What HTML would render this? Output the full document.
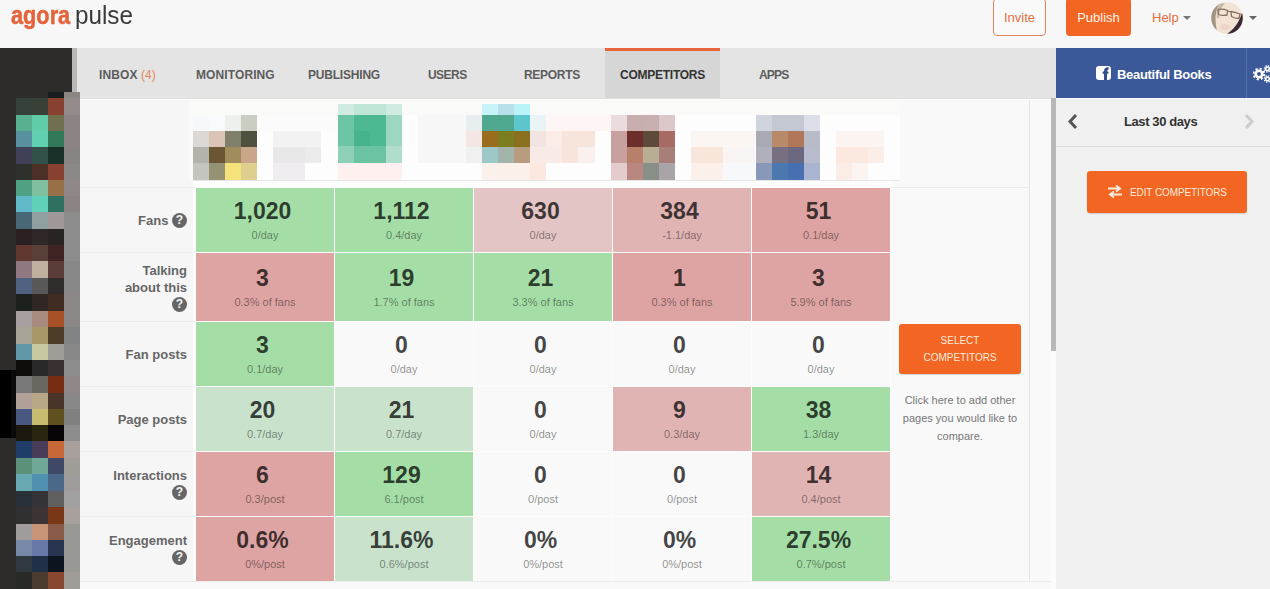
<!DOCTYPE html>
<html><head><meta charset="utf-8">
<style>
*{box-sizing:border-box}
html,body{margin:0;padding:0}
body{width:1270px;height:589px;overflow:hidden;position:relative;background:#f7f7f7;font-family:"Liberation Sans",sans-serif}
#side div,#hm div{position:absolute}
#hm{position:absolute;left:0;top:0;filter:blur(0.4px)}
.a{position:absolute;white-space:nowrap}
#nav{position:absolute;left:77px;top:48px;width:979px;height:51px;background:#e4e4e4;border-bottom:1px solid #e0e0e0}
#nav .t{position:absolute;top:0;height:50px;line-height:55px;font-size:12px;font-weight:bold;color:#5c5c5c;letter-spacing:0.1px}
#main{position:absolute;left:80px;top:99px;width:971px;height:490px;background:#f9f9f9}
.cell{position:absolute;text-align:center}
.num{position:absolute;left:0;right:5px;top:11px;font-size:23px;font-weight:bold;color:rgba(0,0,0,.74);line-height:24px}
.sub{position:absolute;left:0;right:0;top:41px;font-size:11px;color:rgba(0,0,0,.45);line-height:13px}
.lab{position:absolute;left:80px;width:115px;display:flex;align-items:center;justify-content:flex-end;padding-right:8px;text-align:right;font-size:13px;font-weight:bold;color:#666;line-height:17px}
.q{display:inline-block;width:15px;height:15px;border-radius:50%;background:#666;color:#f6f6f6;font-size:12px;line-height:15px;text-align:center;vertical-align:1px}
</style></head><body>
<!-- header -->
<div class="a" style="left:11px;top:-3px;line-height:36px;font-size:26px;color:#e4633a;font-weight:bold;-webkit-text-stroke:0.5px #e4633a;transform:scaleX(0.836);transform-origin:0 0">agora</div>
<div class="a" style="left:75px;top:-3px;line-height:36px;font-size:26px;color:#3a3a3a;transform:scaleX(0.933);transform-origin:0 0">pulse</div>
<div class="a" style="left:993px;top:-2px;width:53px;height:38px;border:1px solid #e0865f;border-radius:4px;background:#f9f9f9;color:#e0703f;font-size:13px;text-align:center;line-height:37px">Invite</div>
<div class="a" style="left:1066px;top:-2px;width:65px;height:38px;background:#f26522;border-radius:4px;color:#fff3ea;font-size:13px;text-align:center;line-height:39px">Publish</div>
<div class="a" style="left:1152px;top:0;height:36px;line-height:36px;color:#e0703f;font-size:13px">Help</div>
<div class="a" style="left:1183px;top:16px;width:0;height:0;border-left:4px solid transparent;border-right:4px solid transparent;border-top:4px solid #777"></div>
<svg class="a" style="left:1211px;top:2px;filter:blur(0.4px)" width="32" height="32" viewBox="0 0 32 32">
<defs><clipPath id="cc"><circle cx="16" cy="16" r="15.8"/></clipPath></defs>
<g clip-path="url(#cc)">
<rect width="32" height="32" fill="#f2e3d4"/>
<path d="M0 0 H9 C4 8 3 20 7 32 H0Z" fill="#a09482"/>
<path d="M9 0 C6 6 5 12 6 16 L8 16 C8 10 10 5 14 2Z" fill="#c8bca8"/>
<path d="M32 7 C30 16 26 25 16 32 H32Z" fill="#3a2830"/>
<ellipse cx="14" cy="25" rx="5" ry="3" fill="#efd4ca"/>
<g fill="none" stroke="#86705e" stroke-width="1.3"><path d="M7 7.5 Q12 6.5 16.5 8.5 L16 13 Q11 14 7.5 12.5Z"/><path d="M20 9.5 Q25 10.5 29 12 L28 16.5 Q23.5 16.5 20.5 14.5Z"/><path d="M16.5 9 L20 10"/></g>
</g></svg>
<div class="a" style="left:1249px;top:16px;width:0;height:0;border-left:4px solid transparent;border-right:4px solid transparent;border-top:4px solid #666"></div>

<!-- nav -->
<div id="nav">
<span class="t" style="left:22px">INBOX <span style="color:#e4875a;font-weight:normal">(4)</span></span>
<span class="t" style="left:119px">MONITORING</span>
<span class="t" style="left:231px;letter-spacing:-0.2px">PUBLISHING</span>
<span class="t" style="left:351px;letter-spacing:-0.55px">USERS</span>
<span class="t" style="left:447px;letter-spacing:-0.3px">REPORTS</span>
<div style="position:absolute;left:528px;top:0;width:115px;height:50px;background:#d6d6d6;border-top:3px solid #e8643a"></div>
<span class="t" style="left:543px;color:#333;letter-spacing:-0.25px">COMPETITORS</span>
<span class="t" style="left:682px;letter-spacing:-0.8px">APPS</span>
</div>

<!-- main -->
<div id="main"></div>
<div class="a" style="left:891px;top:187px;width:138px;height:1px;background:#ececec"></div>
<div class="a" style="left:1029px;top:98px;width:1px;height:484px;background:#e4e4e4"></div>
<div class="a" style="left:80px;top:581px;width:971px;height:1px;background:#ececec"></div>
<div id="lbg" class="a" style="left:80px;top:100px;width:115px;height:481px;background:#f6f6f6"></div>
<div id="hm"><div style="left:193px;top:99px;width:707px;height:81px;background:#fdfdfd"></div>
<div style="left:193px;top:99px;width:707px;height:16px;background:#fafaf9"></div>
<div style="left:193px;top:115px;width:16px;height:16px;background:#f7f8fa"></div>
<div style="left:209px;top:115px;width:16px;height:16px;background:#f9fafc"></div>
<div style="left:225px;top:115px;width:16px;height:16px;background:#eef0ee"></div>
<div style="left:241px;top:115px;width:16px;height:16px;background:#c9cdc2"></div>
<div style="left:193px;top:131px;width:16px;height:16px;background:#dcd8d5"></div>
<div style="left:209px;top:131px;width:16px;height:16px;background:#dcc3b7"></div>
<div style="left:225px;top:131px;width:16px;height:16px;background:#807f6a"></div>
<div style="left:241px;top:131px;width:16px;height:16px;background:#4f513f"></div>
<div style="left:193px;top:147px;width:16px;height:16px;background:#b3b2ab"></div>
<div style="left:209px;top:147px;width:16px;height:16px;background:#6b5633"></div>
<div style="left:225px;top:147px;width:16px;height:16px;background:#a08c5c"></div>
<div style="left:241px;top:147px;width:16px;height:16px;background:#c9a68a"></div>
<div style="left:193px;top:163px;width:16px;height:17px;background:#c3c5be"></div>
<div style="left:209px;top:163px;width:16px;height:17px;background:#959173"></div>
<div style="left:225px;top:163px;width:16px;height:17px;background:#f5e27a"></div>
<div style="left:241px;top:163px;width:16px;height:17px;background:#dfcf8e"></div>
<div style="left:257px;top:115px;width:81px;height:16px;background:#fbfbfb"></div>
<div style="left:273px;top:131px;width:48px;height:16px;background:#f2f2f2"></div>
<div style="left:273px;top:147px;width:32px;height:16px;background:#e8e8e8"></div>
<div style="left:305px;top:147px;width:16px;height:16px;background:#ebebeb"></div>
<div style="left:273px;top:163px;width:32px;height:17px;background:#efedef"></div>
<div style="left:338px;top:104px;width:16px;height:11px;background:#d0ebe2"></div>
<div style="left:354px;top:104px;width:16px;height:11px;background:#c0e6d8"></div>
<div style="left:370px;top:104px;width:16px;height:11px;background:#c0e6d8"></div>
<div style="left:386px;top:104px;width:16px;height:11px;background:#d0ebe2"></div>
<div style="left:338px;top:115px;width:16px;height:16px;background:#6cc6a5"></div>
<div style="left:354px;top:115px;width:16px;height:16px;background:#4db892"></div>
<div style="left:370px;top:115px;width:16px;height:16px;background:#4cb993"></div>
<div style="left:386px;top:115px;width:16px;height:16px;background:#9dd7c2"></div>
<div style="left:338px;top:131px;width:16px;height:15px;background:#6cc6a5"></div>
<div style="left:354px;top:131px;width:16px;height:15px;background:#48b48e"></div>
<div style="left:370px;top:131px;width:16px;height:15px;background:#4cb993"></div>
<div style="left:386px;top:131px;width:16px;height:15px;background:#9dd7c2"></div>
<div style="left:338px;top:146px;width:16px;height:17px;background:#8dd0b6"></div>
<div style="left:354px;top:146px;width:16px;height:17px;background:#6bc3a2"></div>
<div style="left:370px;top:146px;width:16px;height:17px;background:#6bc3a2"></div>
<div style="left:386px;top:146px;width:16px;height:17px;background:#b0ddcc"></div>
<div style="left:338px;top:163px;width:16px;height:17px;background:#fdf0ee"></div>
<div style="left:354px;top:163px;width:16px;height:17px;background:#fdf0ee"></div>
<div style="left:370px;top:163px;width:16px;height:17px;background:#fdf0ee"></div>
<div style="left:386px;top:163px;width:16px;height:17px;background:#fdf0ee"></div>
<div style="left:418px;top:115px;width:48px;height:48px;background:#f7f7f7"></div>
<div style="left:466px;top:115px;width:16px;height:16px;background:#e6eeef"></div>
<div style="left:466px;top:131px;width:16px;height:16px;background:#f4e6e2"></div>
<div style="left:466px;top:147px;width:16px;height:16px;background:#f0f0f0"></div>
<div style="left:482px;top:104px;width:16px;height:11px;background:#c8f3f8"></div>
<div style="left:498px;top:104px;width:16px;height:11px;background:#b8e0ea"></div>
<div style="left:514px;top:104px;width:16px;height:11px;background:#b8f4fa"></div>
<div style="left:482px;top:115px;width:16px;height:16px;background:#4fa88f"></div>
<div style="left:498px;top:115px;width:16px;height:16px;background:#4fa88f"></div>
<div style="left:514px;top:115px;width:16px;height:16px;background:#5cc6cc"></div>
<div style="left:482px;top:131px;width:16px;height:16px;background:#9a6d1e"></div>
<div style="left:498px;top:131px;width:16px;height:16px;background:#7b7d1e"></div>
<div style="left:514px;top:131px;width:16px;height:16px;background:#8a6f1e"></div>
<div style="left:482px;top:147px;width:16px;height:16px;background:#9ec8c8"></div>
<div style="left:498px;top:147px;width:16px;height:16px;background:#a3b5aa"></div>
<div style="left:514px;top:147px;width:16px;height:16px;background:#b89c80"></div>
<div style="left:482px;top:163px;width:16px;height:17px;background:#fbf0ea"></div>
<div style="left:498px;top:163px;width:16px;height:17px;background:#fbf0ea"></div>
<div style="left:514px;top:163px;width:16px;height:17px;background:#fbf0ea"></div>
<div style="left:530px;top:115px;width:16px;height:16px;background:#e8f4f6"></div>
<div style="left:546px;top:115px;width:65px;height:16px;background:#fdf6f4"></div>
<div style="left:530px;top:131px;width:16px;height:16px;background:#f2e4e0"></div>
<div style="left:546px;top:131px;width:16px;height:16px;background:#fbece8"></div>
<div style="left:562px;top:131px;width:33px;height:16px;background:#f7e4da"></div>
<div style="left:530px;top:147px;width:32px;height:16px;background:#f8eae6"></div>
<div style="left:562px;top:147px;width:16px;height:16px;background:#f7e4da"></div>
<div style="left:578px;top:147px;width:17px;height:16px;background:#faf0ee"></div>
<div style="left:530px;top:163px;width:16px;height:17px;background:#fbe9e0"></div>
<div style="left:611px;top:115px;width:16px;height:16px;background:#eadcdc"></div>
<div style="left:627px;top:115px;width:16px;height:16px;background:#c9aeae"></div>
<div style="left:643px;top:115px;width:16px;height:16px;background:#c9b0b0"></div>
<div style="left:659px;top:115px;width:16px;height:16px;background:#dcc8c8"></div>
<div style="left:611px;top:131px;width:16px;height:16px;background:#c9a0a0"></div>
<div style="left:627px;top:131px;width:16px;height:16px;background:#6b2e2a"></div>
<div style="left:643px;top:131px;width:16px;height:16px;background:#5e4a3a"></div>
<div style="left:659px;top:131px;width:16px;height:16px;background:#a86a64"></div>
<div style="left:611px;top:147px;width:16px;height:16px;background:#c9a0a0"></div>
<div style="left:627px;top:147px;width:16px;height:16px;background:#b8806a"></div>
<div style="left:643px;top:147px;width:16px;height:16px;background:#b8ae94"></div>
<div style="left:659px;top:147px;width:16px;height:16px;background:#a87e78"></div>
<div style="left:611px;top:163px;width:16px;height:17px;background:#e4cccc"></div>
<div style="left:627px;top:163px;width:16px;height:17px;background:#b88880"></div>
<div style="left:643px;top:163px;width:16px;height:17px;background:#888e88"></div>
<div style="left:659px;top:163px;width:16px;height:17px;background:#a8a4a8"></div>
<div style="left:691px;top:131px;width:64px;height:16px;background:#fcf6f2"></div>
<div style="left:691px;top:147px;width:32px;height:16px;background:#f9e6da"></div>
<div style="left:723px;top:147px;width:32px;height:16px;background:#f8f4f4"></div>
<div style="left:691px;top:163px;width:32px;height:17px;background:#fbf0ea"></div>
<div style="left:723px;top:163px;width:32px;height:17px;background:#f6f8fa"></div>
<div style="left:756px;top:115px;width:16px;height:16px;background:#d0d4dc"></div>
<div style="left:772px;top:115px;width:16px;height:16px;background:#c4c8d2"></div>
<div style="left:788px;top:115px;width:16px;height:16px;background:#c4c8d2"></div>
<div style="left:804px;top:115px;width:16px;height:16px;background:#dcdfe8"></div>
<div style="left:756px;top:131px;width:16px;height:16px;background:#a8aab4"></div>
<div style="left:772px;top:131px;width:16px;height:16px;background:#b88a6a"></div>
<div style="left:788px;top:131px;width:16px;height:16px;background:#b07858"></div>
<div style="left:804px;top:131px;width:16px;height:16px;background:#b8bcc8"></div>
<div style="left:756px;top:147px;width:16px;height:16px;background:#b0b0bc"></div>
<div style="left:772px;top:147px;width:16px;height:16px;background:#787080"></div>
<div style="left:788px;top:147px;width:16px;height:16px;background:#6c6880"></div>
<div style="left:804px;top:147px;width:16px;height:16px;background:#b8bccc"></div>
<div style="left:756px;top:163px;width:16px;height:17px;background:#8898b8"></div>
<div style="left:772px;top:163px;width:16px;height:17px;background:#4c78b0"></div>
<div style="left:788px;top:163px;width:16px;height:17px;background:#4870b0"></div>
<div style="left:804px;top:163px;width:16px;height:17px;background:#a8b4d0"></div>
<div style="left:836px;top:131px;width:48px;height:16px;background:#fcf4f0"></div>
<div style="left:836px;top:147px;width:32px;height:16px;background:#fbe8de"></div>
<div style="left:868px;top:147px;width:16px;height:16px;background:#fbeee8"></div>
<div style="left:836px;top:163px;width:16px;height:17px;background:#fbece6"></div>
<div style="left:852px;top:163px;width:16px;height:17px;background:#fcf4f0"></div></div>
<div class="a" style="left:193px;top:180px;width:707px;height:1px;background:#e6e6e6"></div>

<div class="a" style="left:80px;top:99px;width:971px;height:1px;background:#fdfdfd"></div>
<div class="a" style="left:189px;top:100px;width:4px;height:80px;background:#fafafa"></div>
<div class="a" style="left:193px;top:181px;width:698px;height:400px;background:#fdfdfd"></div>
<div class="a" style="left:80px;top:187px;width:115px;height:1px;background:#ececec"></div>
<div class="a" style="left:80px;top:252px;width:115px;height:1px;background:#ececec"></div>
<div class="a" style="left:80px;top:321px;width:115px;height:1px;background:#ececec"></div>
<div class="a" style="left:80px;top:386px;width:115px;height:1px;background:#ececec"></div>
<div class="a" style="left:80px;top:451px;width:115px;height:1px;background:#ececec"></div>
<div class="a" style="left:80px;top:516px;width:115px;height:1px;background:#ececec"></div>

<div class="cell" style="left:196px;top:188px;width:138px;height:64px;background:#a4dea6"><div class="num" style="top:11px">1,020</div><div class="sub" style="top:41px">0/day</div></div>
<div class="cell" style="left:335px;top:188px;width:138px;height:64px;background:#a4dea6"><div class="num" style="top:11px">1,112</div><div class="sub" style="top:41px">0.4/day</div></div>
<div class="cell" style="left:474px;top:188px;width:138px;height:64px;background:#e2c5c4"><div class="num" style="top:11px">630</div><div class="sub" style="top:41px">0/day</div></div>
<div class="cell" style="left:613px;top:188px;width:138px;height:64px;background:#e1b4b4"><div class="num" style="top:11px">384</div><div class="sub" style="top:41px">-1.1/day</div></div>
<div class="cell" style="left:752px;top:188px;width:138px;height:64px;background:#dea4a4"><div class="num" style="top:11px">51</div><div class="sub" style="top:41px">0.1/day</div></div>
<div class="lab" style="top:188px;height:64px"><div>Fans <span class="q">?</span></div></div>
<div class="cell" style="left:196px;top:253px;width:138px;height:68px;background:#dea4a4"><div class="num" style="top:13px">3</div><div class="sub" style="top:43px">0.3% of fans</div></div>
<div class="cell" style="left:335px;top:253px;width:138px;height:68px;background:#a4dea6"><div class="num" style="top:13px">19</div><div class="sub" style="top:43px">1.7% of fans</div></div>
<div class="cell" style="left:474px;top:253px;width:138px;height:68px;background:#a4dea6"><div class="num" style="top:13px">21</div><div class="sub" style="top:43px">3.3% of fans</div></div>
<div class="cell" style="left:613px;top:253px;width:138px;height:68px;background:#dea4a4"><div class="num" style="top:13px">1</div><div class="sub" style="top:43px">0.3% of fans</div></div>
<div class="cell" style="left:752px;top:253px;width:138px;height:68px;background:#dea4a4"><div class="num" style="top:13px">3</div><div class="sub" style="top:43px">5.9% of fans</div></div>
<div class="lab" style="top:253px;height:68px"><div>Talking<br>about this<br><span class="q">?</span></div></div>
<div class="cell" style="left:196px;top:322px;width:138px;height:64px;background:#a4dea6"><div class="num" style="top:11px">3</div><div class="sub" style="top:41px">0.1/day</div></div>
<div class="cell" style="left:335px;top:322px;width:138px;height:64px;background:#f9f9f9"><div class="num" style="top:11px">0</div><div class="sub" style="top:41px">0/day</div></div>
<div class="cell" style="left:474px;top:322px;width:138px;height:64px;background:#f9f9f9"><div class="num" style="top:11px">0</div><div class="sub" style="top:41px">0/day</div></div>
<div class="cell" style="left:613px;top:322px;width:138px;height:64px;background:#f9f9f9"><div class="num" style="top:11px">0</div><div class="sub" style="top:41px">0/day</div></div>
<div class="cell" style="left:752px;top:322px;width:138px;height:64px;background:#f9f9f9"><div class="num" style="top:11px">0</div><div class="sub" style="top:41px">0/day</div></div>
<div class="lab" style="top:322px;height:64px"><div>Fan posts</div></div>
<div class="cell" style="left:196px;top:387px;width:138px;height:64px;background:#c9e2cc"><div class="num" style="top:11px">20</div><div class="sub" style="top:41px">0.7/day</div></div>
<div class="cell" style="left:335px;top:387px;width:138px;height:64px;background:#c9e2cc"><div class="num" style="top:11px">21</div><div class="sub" style="top:41px">0.7/day</div></div>
<div class="cell" style="left:474px;top:387px;width:138px;height:64px;background:#f9f9f9"><div class="num" style="top:11px">0</div><div class="sub" style="top:41px">0/day</div></div>
<div class="cell" style="left:613px;top:387px;width:138px;height:64px;background:#e1b4b4"><div class="num" style="top:11px">9</div><div class="sub" style="top:41px">0.3/day</div></div>
<div class="cell" style="left:752px;top:387px;width:138px;height:64px;background:#a4dea6"><div class="num" style="top:11px">38</div><div class="sub" style="top:41px">1.3/day</div></div>
<div class="lab" style="top:387px;height:64px"><div>Page posts</div></div>
<div class="cell" style="left:196px;top:452px;width:138px;height:64px;background:#dea4a4"><div class="num" style="top:11px">6</div><div class="sub" style="top:41px">0.3/post</div></div>
<div class="cell" style="left:335px;top:452px;width:138px;height:64px;background:#a4dea6"><div class="num" style="top:11px">129</div><div class="sub" style="top:41px">6.1/post</div></div>
<div class="cell" style="left:474px;top:452px;width:138px;height:64px;background:#f9f9f9"><div class="num" style="top:11px">0</div><div class="sub" style="top:41px">0/post</div></div>
<div class="cell" style="left:613px;top:452px;width:138px;height:64px;background:#f9f9f9"><div class="num" style="top:11px">0</div><div class="sub" style="top:41px">0/post</div></div>
<div class="cell" style="left:752px;top:452px;width:138px;height:64px;background:#e1b4b4"><div class="num" style="top:11px">14</div><div class="sub" style="top:41px">0.4/post</div></div>
<div class="lab" style="top:452px;height:64px"><div>Interactions<br><span class="q">?</span></div></div>
<div class="cell" style="left:196px;top:517px;width:138px;height:64px;background:#dea4a4"><div class="num" style="top:11px">0.6%</div><div class="sub" style="top:41px">0%/post</div></div>
<div class="cell" style="left:335px;top:517px;width:138px;height:64px;background:#c9e2cc"><div class="num" style="top:11px">11.6%</div><div class="sub" style="top:41px">0.6%/post</div></div>
<div class="cell" style="left:474px;top:517px;width:138px;height:64px;background:#f9f9f9"><div class="num" style="top:11px">0%</div><div class="sub" style="top:41px">0%/post</div></div>
<div class="cell" style="left:613px;top:517px;width:138px;height:64px;background:#f9f9f9"><div class="num" style="top:11px">0%</div><div class="sub" style="top:41px">0%/post</div></div>
<div class="cell" style="left:752px;top:517px;width:138px;height:64px;background:#a4dea6"><div class="num" style="top:11px">27.5%</div><div class="sub" style="top:41px">0.7%/post</div></div>
<div class="lab" style="top:517px;height:64px"><div>Engagement<br><span class="q">?</span></div></div>
<div class="a" style="left:899px;top:324px;width:122px;height:50px;background:#f26522;border-radius:3px;box-shadow:0 1px 1px rgba(0,0,0,.15);color:#fdebdc;font-size:10px;text-align:center;line-height:17px;padding-top:8px">SELECT<br>COMPETITORS</div>
<div class="a" style="left:891px;top:391px;width:138px;text-align:center;color:#777;font-size:11px;line-height:18px;white-space:normal">Click here to add other<br>pages you would like to<br>compare.</div>
<div class="a" style="left:1051px;top:98px;width:5px;height:253px;background:#b8b8b8"></div>
<div class="a" style="left:1051px;top:351px;width:5px;height:238px;background:#fcfcfc"></div>

<!-- side -->
<div id="side"><div style="left:0px;top:48px;width:72px;height:541px;background:#2e2c2a"></div>
<div style="left:72px;top:48px;width:5px;height:44px;background:#b8b8b8"></div>
<div style="left:0px;top:370px;width:11px;height:68px;background:#000"></div>
<div style="left:11px;top:370px;width:5px;height:68px;background:#0a0a0a"></div>
<div style="left:16px;top:92px;width:16px;height:6px;background:#2e2c2a"></div>
<div style="left:32px;top:92px;width:16px;height:6px;background:#2e2c2a"></div>
<div style="left:48px;top:92px;width:16px;height:6px;background:#1a1e1e"></div>
<div style="left:64px;top:92px;width:16px;height:6px;background:#8a8684"></div>
<div style="left:16px;top:98px;width:16px;height:17px;background:#34403a"></div>
<div style="left:32px;top:98px;width:16px;height:17px;background:#384038"></div>
<div style="left:48px;top:98px;width:16px;height:17px;background:#884030"></div>
<div style="left:64px;top:98px;width:16px;height:17px;background:#948c8a"></div>
<div style="left:16px;top:115px;width:16px;height:16px;background:#58b090"></div>
<div style="left:32px;top:115px;width:16px;height:16px;background:#60cca8"></div>
<div style="left:48px;top:115px;width:16px;height:16px;background:#707050"></div>
<div style="left:64px;top:115px;width:16px;height:16px;background:#8c8484"></div>
<div style="left:16px;top:131px;width:16px;height:16px;background:#5890a0"></div>
<div style="left:32px;top:131px;width:16px;height:16px;background:#60d0b0"></div>
<div style="left:48px;top:131px;width:16px;height:16px;background:#307858"></div>
<div style="left:64px;top:131px;width:16px;height:16px;background:#8c8484"></div>
<div style="left:16px;top:147px;width:16px;height:17px;background:#404058"></div>
<div style="left:32px;top:147px;width:16px;height:17px;background:#305048"></div>
<div style="left:48px;top:147px;width:16px;height:17px;background:#183028"></div>
<div style="left:64px;top:147px;width:16px;height:17px;background:#888484"></div>
<div style="left:16px;top:164px;width:16px;height:16px;background:#2e302c"></div>
<div style="left:32px;top:164px;width:16px;height:16px;background:#4c3028"></div>
<div style="left:48px;top:164px;width:16px;height:16px;background:#884030"></div>
<div style="left:64px;top:164px;width:16px;height:16px;background:#8c8888"></div>
<div style="left:16px;top:180px;width:16px;height:16px;background:#50a084"></div>
<div style="left:32px;top:180px;width:16px;height:16px;background:#80c0a0"></div>
<div style="left:48px;top:180px;width:16px;height:16px;background:#987048"></div>
<div style="left:64px;top:180px;width:16px;height:16px;background:#908888"></div>
<div style="left:16px;top:196px;width:16px;height:16px;background:#60b8c8"></div>
<div style="left:32px;top:196px;width:16px;height:16px;background:#60d0b8"></div>
<div style="left:48px;top:196px;width:16px;height:16px;background:#307060"></div>
<div style="left:64px;top:196px;width:16px;height:16px;background:#8c8484"></div>
<div style="left:16px;top:212px;width:16px;height:17px;background:#486878"></div>
<div style="left:32px;top:212px;width:16px;height:17px;background:#90a0a0"></div>
<div style="left:48px;top:212px;width:16px;height:17px;background:#a09898"></div>
<div style="left:64px;top:212px;width:16px;height:17px;background:#8c8c8c"></div>
<div style="left:16px;top:229px;width:16px;height:16px;background:#2a2020"></div>
<div style="left:32px;top:229px;width:16px;height:16px;background:#302828"></div>
<div style="left:48px;top:229px;width:16px;height:16px;background:#282424"></div>
<div style="left:64px;top:229px;width:16px;height:16px;background:#8c8c8c"></div>
<div style="left:16px;top:245px;width:16px;height:16px;background:#603830"></div>
<div style="left:32px;top:245px;width:16px;height:16px;background:#584038"></div>
<div style="left:48px;top:245px;width:16px;height:16px;background:#402424"></div>
<div style="left:64px;top:245px;width:16px;height:16px;background:#8c8c8c"></div>
<div style="left:16px;top:261px;width:16px;height:17px;background:#907880"></div>
<div style="left:32px;top:261px;width:16px;height:17px;background:#c0b0a0"></div>
<div style="left:48px;top:261px;width:16px;height:17px;background:#5c3c38"></div>
<div style="left:64px;top:261px;width:16px;height:17px;background:#888888"></div>
<div style="left:16px;top:278px;width:16px;height:16px;background:#506080"></div>
<div style="left:32px;top:278px;width:16px;height:16px;background:#585858"></div>
<div style="left:48px;top:278px;width:16px;height:16px;background:#302c2c"></div>
<div style="left:64px;top:278px;width:16px;height:16px;background:#888888"></div>
<div style="left:16px;top:294px;width:16px;height:17px;background:#1c201c"></div>
<div style="left:32px;top:294px;width:16px;height:17px;background:#302624"></div>
<div style="left:48px;top:294px;width:16px;height:17px;background:#402c20"></div>
<div style="left:64px;top:294px;width:16px;height:17px;background:#8c8888"></div>
<div style="left:16px;top:311px;width:16px;height:16px;background:#a8a0a0"></div>
<div style="left:32px;top:311px;width:16px;height:16px;background:#a88c80"></div>
<div style="left:48px;top:311px;width:16px;height:16px;background:#a85028"></div>
<div style="left:64px;top:311px;width:16px;height:16px;background:#8c8888"></div>
<div style="left:16px;top:327px;width:16px;height:17px;background:#a8a498"></div>
<div style="left:32px;top:327px;width:16px;height:17px;background:#a89868"></div>
<div style="left:48px;top:327px;width:16px;height:17px;background:#4c3c28"></div>
<div style="left:64px;top:327px;width:16px;height:17px;background:#808484"></div>
<div style="left:16px;top:344px;width:16px;height:16px;background:#6098a8"></div>
<div style="left:32px;top:344px;width:16px;height:16px;background:#c8c8a0"></div>
<div style="left:48px;top:344px;width:16px;height:16px;background:#a09c98"></div>
<div style="left:64px;top:344px;width:16px;height:16px;background:#888888"></div>
<div style="left:16px;top:360px;width:16px;height:16px;background:#100c0c"></div>
<div style="left:32px;top:360px;width:16px;height:16px;background:#282828"></div>
<div style="left:48px;top:360px;width:16px;height:16px;background:#383030"></div>
<div style="left:64px;top:360px;width:16px;height:16px;background:#8c8c8c"></div>
<div style="left:16px;top:376px;width:16px;height:17px;background:#787878"></div>
<div style="left:32px;top:376px;width:16px;height:17px;background:#686860"></div>
<div style="left:48px;top:376px;width:16px;height:17px;background:#782c14"></div>
<div style="left:64px;top:376px;width:16px;height:17px;background:#908888"></div>
<div style="left:16px;top:393px;width:16px;height:16px;background:#b0a098"></div>
<div style="left:32px;top:393px;width:16px;height:16px;background:#b8a888"></div>
<div style="left:48px;top:393px;width:16px;height:16px;background:#483428"></div>
<div style="left:64px;top:393px;width:16px;height:16px;background:#888888"></div>
<div style="left:16px;top:409px;width:16px;height:16px;background:#485880"></div>
<div style="left:32px;top:409px;width:16px;height:16px;background:#c8bc70"></div>
<div style="left:48px;top:409px;width:16px;height:16px;background:#605020"></div>
<div style="left:64px;top:409px;width:16px;height:16px;background:#808080"></div>
<div style="left:16px;top:425px;width:16px;height:16px;background:#1c1810"></div>
<div style="left:32px;top:425px;width:16px;height:16px;background:#282410"></div>
<div style="left:48px;top:425px;width:16px;height:16px;background:#060404"></div>
<div style="left:64px;top:425px;width:16px;height:16px;background:#8c8c8c"></div>
<div style="left:16px;top:441px;width:16px;height:17px;background:#203c68"></div>
<div style="left:32px;top:441px;width:16px;height:17px;background:#483c58"></div>
<div style="left:48px;top:441px;width:16px;height:17px;background:#c86838"></div>
<div style="left:64px;top:441px;width:16px;height:17px;background:#a8a09c"></div>
<div style="left:16px;top:458px;width:16px;height:16px;background:#5c9078"></div>
<div style="left:32px;top:458px;width:16px;height:16px;background:#70a898"></div>
<div style="left:48px;top:458px;width:16px;height:16px;background:#404868"></div>
<div style="left:64px;top:458px;width:16px;height:16px;background:#a09c98"></div>
<div style="left:16px;top:474px;width:16px;height:17px;background:#68a8b0"></div>
<div style="left:32px;top:474px;width:16px;height:17px;background:#5090b0"></div>
<div style="left:48px;top:474px;width:16px;height:17px;background:#4c6888"></div>
<div style="left:64px;top:474px;width:16px;height:17px;background:#a09c9c"></div>
<div style="left:16px;top:491px;width:16px;height:16px;background:#283038"></div>
<div style="left:32px;top:491px;width:16px;height:16px;background:#343438"></div>
<div style="left:48px;top:491px;width:16px;height:16px;background:#606060"></div>
<div style="left:64px;top:491px;width:16px;height:16px;background:#a0a0a0"></div>
<div style="left:16px;top:507px;width:16px;height:17px;background:#303030"></div>
<div style="left:32px;top:507px;width:16px;height:17px;background:#3c3434"></div>
<div style="left:48px;top:507px;width:16px;height:17px;background:#783818"></div>
<div style="left:64px;top:507px;width:16px;height:17px;background:#a8a09c"></div>
<div style="left:16px;top:524px;width:16px;height:16px;background:#a09c9c"></div>
<div style="left:32px;top:524px;width:16px;height:16px;background:#c89478"></div>
<div style="left:48px;top:524px;width:16px;height:16px;background:#885c48"></div>
<div style="left:64px;top:524px;width:16px;height:16px;background:#989894"></div>
<div style="left:16px;top:540px;width:16px;height:16px;background:#7888a8"></div>
<div style="left:32px;top:540px;width:16px;height:16px;background:#6878a8"></div>
<div style="left:48px;top:540px;width:16px;height:16px;background:#283450"></div>
<div style="left:64px;top:540px;width:16px;height:16px;background:#989894"></div>
<div style="left:16px;top:556px;width:16px;height:16px;background:#303840"></div>
<div style="left:32px;top:556px;width:16px;height:16px;background:#203048"></div>
<div style="left:48px;top:556px;width:16px;height:16px;background:#0c1420"></div>
<div style="left:64px;top:556px;width:16px;height:16px;background:#989894"></div>
<div style="left:16px;top:572px;width:16px;height:17px;background:#282a28"></div>
<div style="left:32px;top:572px;width:16px;height:17px;background:#4c3c30"></div>
<div style="left:48px;top:572px;width:16px;height:17px;background:#884830"></div>
<div style="left:64px;top:572px;width:16px;height:17px;background:#a09c98"></div></div>

<!-- right panel -->
<div class="a" style="left:1056px;top:48px;width:214px;height:541px;background:#f0f0f0"></div>
<div class="a" style="left:1056px;top:48px;width:214px;height:50px;background:#3b5998"></div>
<div class="a" style="left:1246px;top:48px;width:1px;height:50px;background:#5a74a8"></div>
<div class="a" style="left:1056px;top:98px;width:214px;height:1px;background:#fafafa"></div>
<svg class="a" style="left:1096px;top:66px" width="15" height="14" viewBox="0 0 15 14"><rect width="15" height="14" rx="3" fill="#fff"/><path d="M8 14 V5.5 Q8 1.3 12 1.3 H12.6 V3.8 H12.2 Q11 3.8 11 5.3 V14 Z M6.6 5.4 H12.4 V7.7 H6.6 Z" fill="#34508a"/></svg>
<div class="a" style="left:1117px;top:63px;color:#fff;font-weight:bold;font-size:13px;line-height:24px;letter-spacing:-0.3px">Beautiful Books</div>
<svg class="a" style="left:1247px;top:60px" width="23" height="30" viewBox="0 0 23 30">
<g transform="translate(12,14)"><circle r="4.6" fill="#fff"/><circle r="5.3" fill="none" stroke="#fff" stroke-width="2" stroke-dasharray="2.1 2.06"/><circle r="1.9" fill="#34508a"/></g>
<g transform="translate(20.5,8.8)"><circle r="2.6" fill="#fff"/><circle r="3.1" fill="none" stroke="#fff" stroke-width="1.4" stroke-dasharray="1.3 1.13"/><circle r="1" fill="#34508a"/></g>
<g transform="translate(20.5,19)"><circle r="2.6" fill="#fff"/><circle r="3.1" fill="none" stroke="#fff" stroke-width="1.4" stroke-dasharray="1.3 1.13"/><circle r="1" fill="#34508a"/></g>
</svg>
<div class="a" style="left:1056px;top:146px;width:214px;height:1px;background:#dcdcdc"></div>
<div class="a" style="left:1124px;top:110px;color:#333;font-weight:bold;font-size:13px;line-height:24px;letter-spacing:-0.4px">Last 30 days</div>
<svg class="a" style="left:1066px;top:113px" width="14" height="17" viewBox="0 0 14 17"><path d="M10 2 L4 8.5 L10 15" stroke="#555" stroke-width="3" fill="none"/></svg>
<svg class="a" style="left:1242px;top:113px" width="14" height="17" viewBox="0 0 14 17"><path d="M4 2 L10 8.5 L4 15" stroke="#ccc" stroke-width="3" fill="none"/></svg>
<div class="a" style="left:1087px;top:171px;width:160px;height:42px;background:#f26522;border-radius:3px;box-shadow:0 1px 1px rgba(0,0,0,.15)"></div>
<svg class="a" style="left:1107px;top:185px" width="16" height="13" viewBox="0 0 16 13"><path d="M1 3.5 H12 M9 0.5 L13 3.5 L9 6.5 M15 9.5 H4 M7 6.5 L3 9.5 L7 12.5" stroke="#fdebdc" stroke-width="2" fill="none"/></svg>
<div class="a" style="left:1130px;top:181px;color:#fdebdc;font-size:10px;line-height:24px;letter-spacing:-0.1px">EDIT COMPETITORS</div>
</body></html>
